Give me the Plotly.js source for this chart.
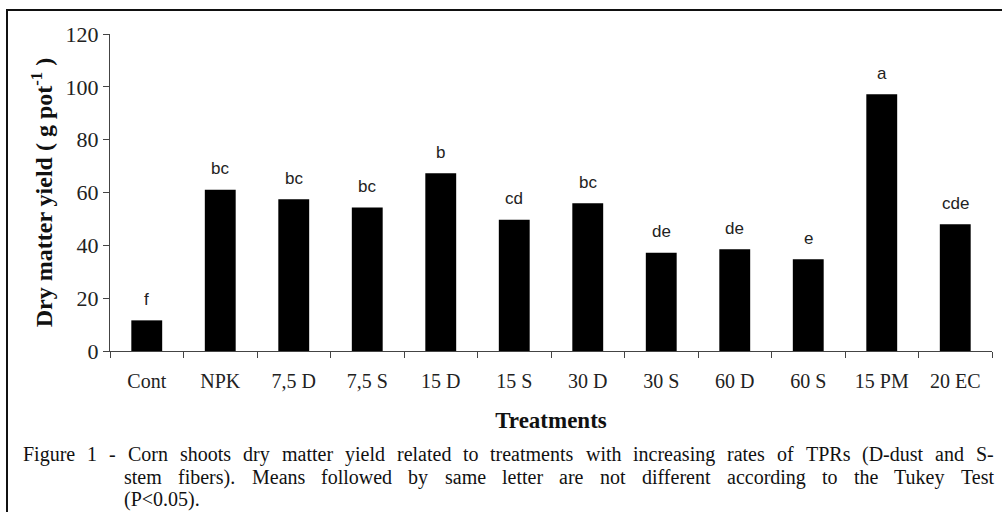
<!DOCTYPE html>
<html><head><meta charset="utf-8">
<script src="https://cdn.plot.ly/plotly-3.0.1.min.js"></script>
<style>html,body{margin:0;padding:0;background:#fff}#chart{width:1002px;height:512px}</style>
</head><body><div id="chart"></div>
<script>
const categories = ["Cont","NPK","7,5 D","7,5 S","15 D","15 S","30 D","30 S","60 D","60 S","15 PM","20 EC"];
const yieldValues = [11.6,61.0,57.4,54.3,67.3,49.7,55.9,37.2,38.5,34.7,97.2,48.0];
const letters = ["f","bc","bc","bc","b","cd","bc","de","de","e","a","cde"];
const yTicks = [0,20,40,60,80,100,120];
const captionLines = [
  "Figure 1 - Corn shoots dry matter yield related to treatments with increasing rates of TPRs (D-dust and S-",
  "stem fibers). Means followed by same letter are not different according to the Tukey Test",
  "(P<0.05)."
];
const yTitle = "<b>Dry matter yield ( g pot<sup>-1</sup> )</b>";
const xTitle = "<b>Treatments</b>";

const SERIF = "Liberation Serif, Times New Roman, serif";
const SANS = "Liberation Sans, Arial, sans-serif";

// plot geometry in pixels
const W = 1002, H = 512, L = 110, R = 10, T = 34, B = 161;
const PW = W - L - R, PH = H - T - B;
const px2x = p => (p - L) / PW;
const py2y = p => (H - B - p) / PH;

const annotations = [];
categories.forEach((c, i) => {
  annotations.push({x: c, y: yieldValues[i], xref: 'x', yref: 'y', text: letters[i],
    showarrow: false, yanchor: 'middle', yshift: 21,
    font: {family: SANS, size: 17, color: '#222'}});
});

// caption with justified lines
const capSize = 20;
const cvs = document.createElement('canvas').getContext('2d');
cvs.font = capSize + "px 'Liberation Serif'";
const lineSpec = [
  {left: 22, right: 993, y: 454, justify: true},
  {left: 123, right: 993, y: 477, justify: true},
  {left: 123, right: 993, y: 499, justify: false}
];
captionLines.forEach((line, li) => {
  const spec = lineSpec[li];
  const words = line.split(' ');
  const widths = words.map(w => cvs.measureText(w).width);
  const total = widths.reduce((a, b) => a + b, 0);
  const gap = spec.justify ? (spec.right - spec.left - total) / (words.length - 1) : cvs.measureText(' ').width;
  let xp = spec.left;
  words.forEach((w, wi) => {
    annotations.push({x: px2x(xp), y: py2y(spec.y), xref: 'paper', yref: 'paper', text: w.replace(/</g, '&lt;'),
      showarrow: false, xanchor: 'left', yanchor: 'middle',
      font: {family: SERIF, size: capSize, color: '#111'}, borderpad: 0});
    xp += widths[wi] + gap;
  });
});

const trace = {
  type: 'bar', x: categories, y: yieldValues,
  marker: {color: '#000', line: {width: 0}},
  hoverinfo: 'x+y'
};

const layout = {
  width: W, height: H,
  margin: {l: L, r: R, t: T, b: B, pad: 0},
  paper_bgcolor: '#fff', plot_bgcolor: '#fff',
  showlegend: false,
  bargap: 0.58,
  font: {family: SERIF, color: '#222'},
  xaxis: {
    type: 'category', tickson: 'boundaries', ticks: 'outside', ticklen: 6, tickcolor: '#444',
    showline: true, linecolor: '#444', linewidth: 1, showgrid: false, zeroline: false,
    tickfont: {family: SERIF, size: 20, color: '#222'},
    ticklabelstandoff: 12,
    title: {text: xTitle, font: {family: SERIF, size: 23, color: '#111'}, standoff: 20}
  },
  yaxis: {
    range: [0, 120], tickvals: yTicks, ticks: 'outside', ticklen: 6, tickcolor: '#444',
    showline: true, linecolor: '#444', linewidth: 1, showgrid: false, zeroline: false,
    tickfont: {family: SERIF, size: 22, color: '#222'},
    title: {text: yTitle, font: {family: SERIF, size: 24, color: '#111'}, standoff: 6}
  },
  annotations: annotations,
  shapes: [{type: 'rect', xref: 'paper', yref: 'paper',
    x0: px2x(7), x1: px2x(1030), y0: py2y(560), y1: py2y(10),
    line: {color: '#111', width: 2}, fillcolor: 'rgba(0,0,0,0)', layer: 'below'}]
};

Plotly.newPlot('chart', [trace], layout, {displayModeBar: false, staticPlot: true});
</script></body></html>
